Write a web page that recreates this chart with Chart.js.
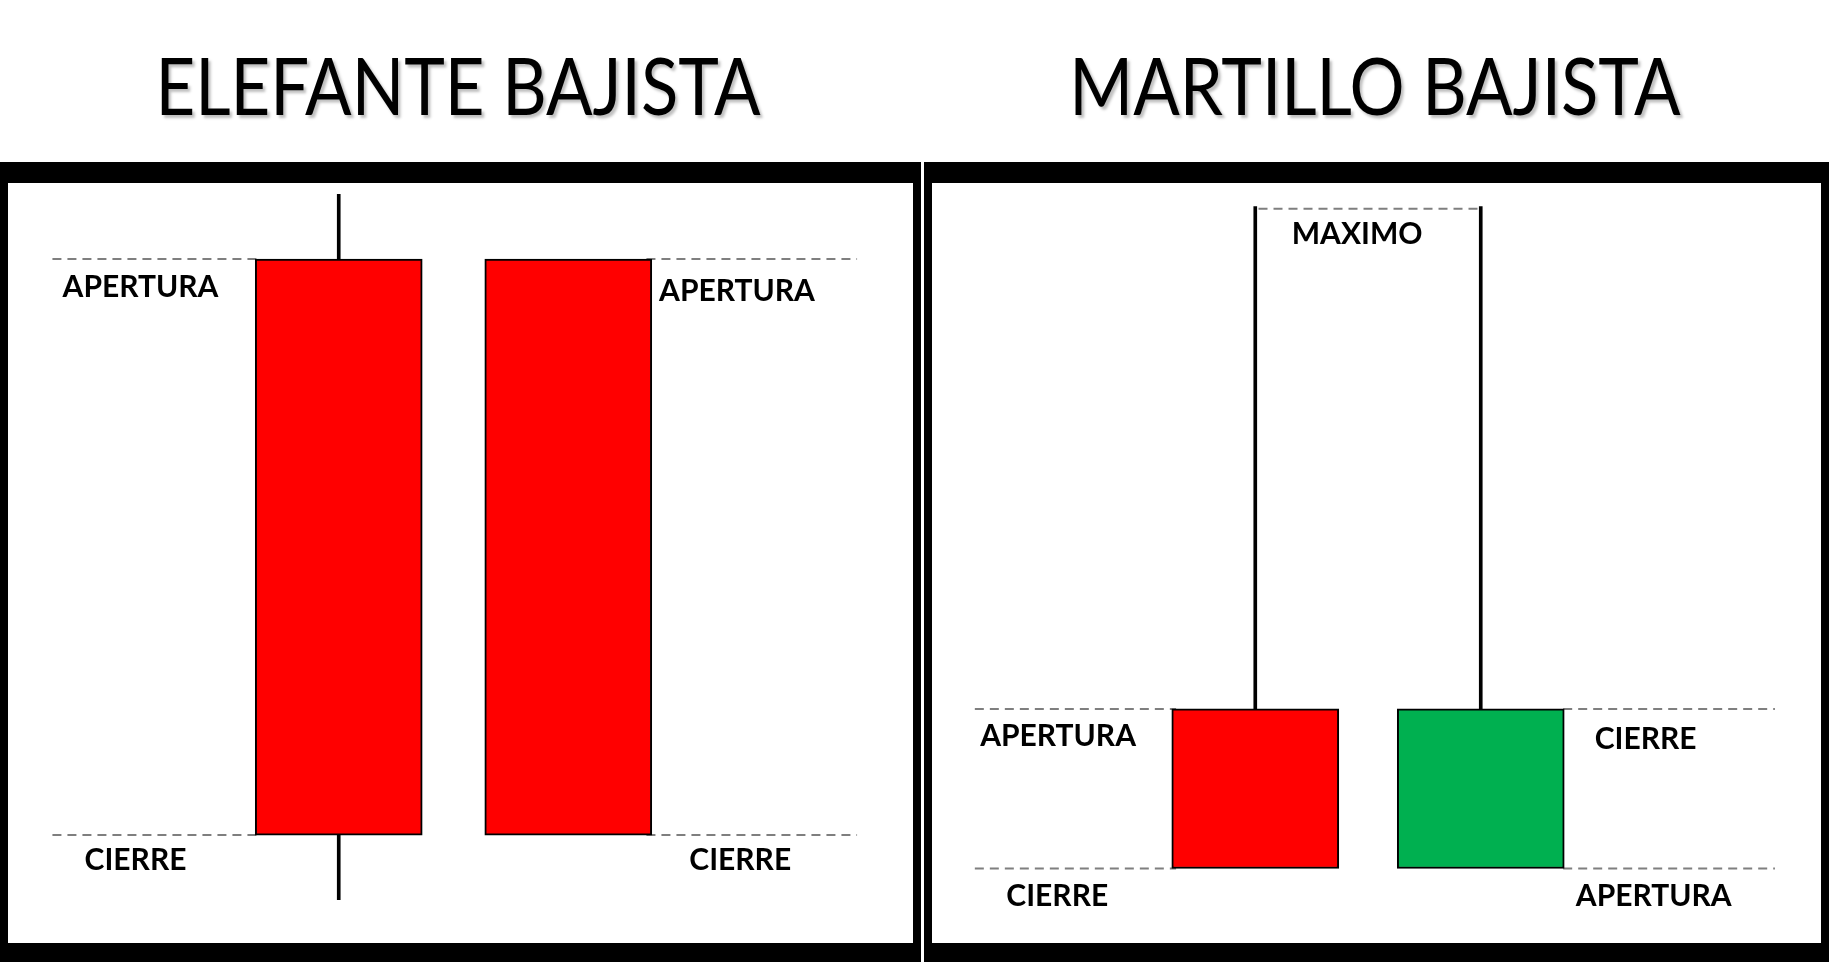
<!DOCTYPE html>
<html>
<head>
<meta charset="utf-8">
<script src="https://cdn.jsdelivr.net/npm/chart.js@4/dist/chart.umd.min.js"></script>
<style>
  body { margin: 0; background: #fff; width: 1832px; height: 962px; position: relative; overflow: hidden; }
  .title { position: absolute; top: 36px; font-family: Lato, sans-serif; font-size: 80px; color: #000;
           text-shadow: 3px 3px 3px rgba(0,0,0,0.25); white-space: nowrap; transform: translateX(-50%) scaleX(0.86); }
  .panel { position: absolute; top: 162px; height: 800px; box-sizing: border-box; border: 8px solid #000;
           border-top-width: 21px; border-bottom-width: 19px; background: #fff; }
  .panel canvas { display: block; }
</style>
</head>
<body>
<div class="title" style="left:458px">ELEFANTE BAJISTA</div>
<div class="title" style="left:1375px">MARTILLO BAJISTA</div>
<div class="panel" style="left:0;width:921px"><canvas id="elefante"></canvas></div>
<div class="panel" style="left:924px;width:905px"><canvas id="martillo"></canvas></div>
<script>
// Elefante bajista: two red candles, open 90 / close 14
var elefanteX = [35.2, 63.1];
var elefanteBodies = [[14.2, 90], [14.2, 90]];
var elefanteWicks = [[5.7, 98.5], null];
var elefanteLevels = [90, 14.2];
var elefanteLabels = ['APERTURA', 'CIERRE', 'APERTURA', 'CIERRE'];
var elefanteLabelPos = [[11.1, 86.3], [10.5, 10.9], [83.6, 85.7], [84, 10.9]];

// Martillo bajista: red and green hammer with long upper shadow
var martilloX = [35.0, 62.9];
var martilloBodies = [[9.8, 30.8], [9.8, 30.8]];
var martilloWicks = [[30.8, 96.9], [30.8, 96.9]];
var martilloColors = ['#ff0000', '#00b050'];
var martilloLevels = [30.8, 9.8];
var martilloMax = 96.6;
var martilloLabels = ['MAXIMO', 'APERTURA', 'CIERRE', 'CIERRE', 'APERTURA'];
var martilloLabelPos = [[47.6, 93.2], [10.6, 27.2], [83.3, 26.8], [10.5, 6.2], [84.3, 6.2]];

var textPlugin = {
    id: 'textLabels',
    afterDatasetsDraw: function(chart) {
        var opts = chart.options.plugins.textLabels;
        var ctx = chart.ctx;
        ctx.save();
        ctx.font = 'bold 30px Lato, sans-serif';
        ctx.fillStyle = '#000';
        ctx.textAlign = 'center';
        ctx.textBaseline = 'middle';
        opts.labels.forEach(function(t, i) {
            var p = opts.positions[i];
            ctx.fillText(t, chart.scales.x.getPixelForValue(p[0]), chart.scales.y.getPixelForValue(p[1]));
        });
        ctx.restore();
    }
};

function dashSet(segments) {
    var pts = [];
    segments.forEach(function(s) {
        pts.push({x: s[0], y: s[2]}, {x: s[1], y: s[2]}, {x: s[1], y: null});
    });
    return {
        type: 'line', data: pts, borderColor: '#7f7f7f', borderWidth: 2, borderDash: [9, 6],
        pointRadius: 0, spanGaps: false, order: 3
    };
}

function makeChart(id, w, xs, bodies, wicks, colors, dashes, labels, positions) {
    var canvas = document.getElementById(id);
    canvas.style.width = w + 'px';
    canvas.style.height = '760px';
    canvas.width = w; canvas.height = 760;
    var wickData = [];
    xs.forEach(function(x, i) { if (wicks[i]) wickData.push({x: x, y: wicks[i]}); });
    new Chart(canvas.getContext('2d'), {
        type: 'bar',
        data: {
            datasets: [{
                data: xs.map(function(x, i) { return {x: x, y: bodies[i]}; }),
                backgroundColor: colors, borderColor: '#000', borderWidth: 2,
                borderSkipped: false, barThickness: 167, grouped: false, order: 1
            }, {
                data: wickData, backgroundColor: '#000', barThickness: 3, grouped: false, order: 2
            }, dashSet(dashes)]
        },
        options: {
            responsive: false, animation: false,
            layout: { padding: 0 },
            scales: {
                x: { type: 'linear', min: 0, max: 100, display: false },
                y: { min: 0, max: 100, display: false }
            },
            plugins: {
                legend: { display: false }, tooltip: { enabled: false },
                textLabels: { labels: labels, positions: positions }
            }
        },
        plugins: [textPlugin]
    });
}

makeChart('elefante', 905, elefanteX, elefanteBodies, elefanteWicks, ['#ff0000', '#ff0000'],
    [[0.4, 25.5, elefanteLevels[0]], [72.6, 98.2, elefanteLevels[0]],
     [0.4, 25.5, elefanteLevels[1]], [72.6, 98.2, elefanteLevels[1]]],
    elefanteLabels, elefanteLabelPos);

makeChart('martillo', 889, martilloX, martilloBodies, martilloWicks, martilloColors,
    [[35.4, 62.6, martilloMax],
     [0.3, 25.2, martilloLevels[0]], [73.1, 99.3, martilloLevels[0]],
     [0.3, 25.2, martilloLevels[1]], [73.1, 99.3, martilloLevels[1]]],
    martilloLabels, martilloLabelPos);
</script>
</body>
</html>
